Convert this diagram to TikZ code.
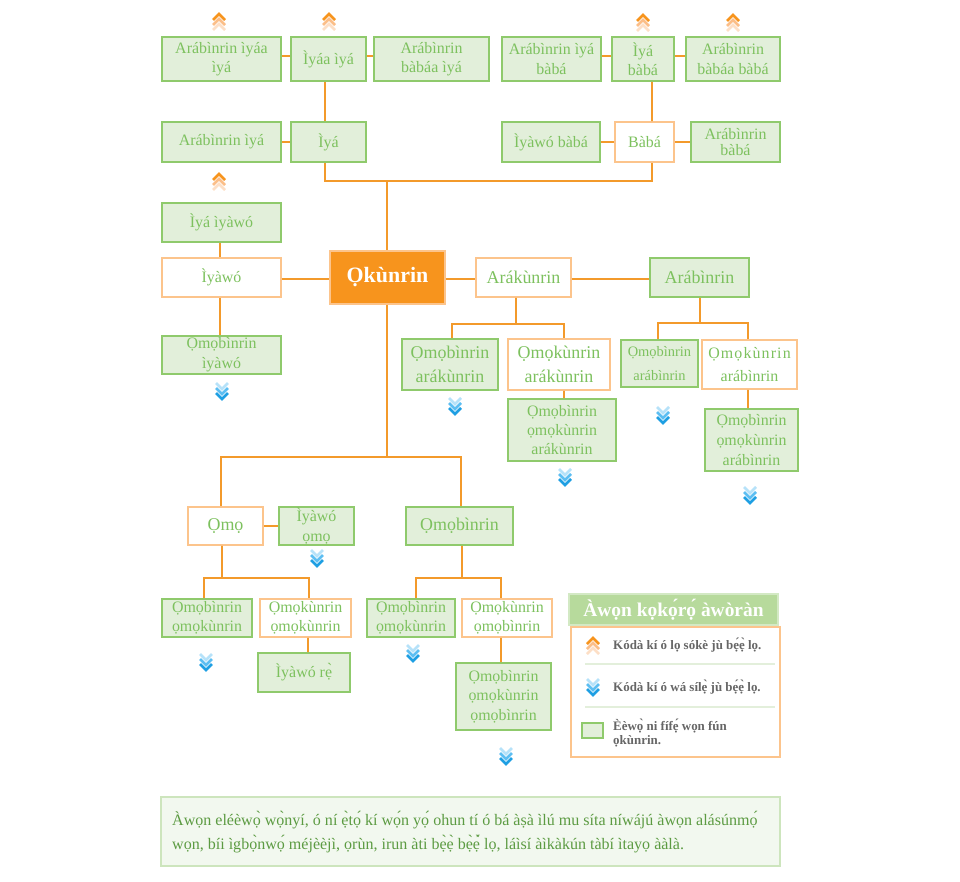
\documentclass[tikz,border=0pt]{standalone}
\usepackage{fontspec}
\setmainfont{Liberation Serif}
\usetikzlibrary{calc}
\definecolor{gtx}{HTML}{7DC15E}
\definecolor{gbd}{HTML}{8FCA6C}
\definecolor{gfl}{HTML}{E2EFDA}
\definecolor{obd}{HTML}{FCC48C}
\definecolor{oln}{HTML}{F39A2B}
\definecolor{ofl}{HTML}{F7941D}
\definecolor{chOa}{HTML}{F7941D}
\definecolor{chOb}{HTML}{FBBE88}
\definecolor{chOc}{HTML}{FDDFC6}
\definecolor{chBa}{HTML}{1E9FE3}
\definecolor{chBb}{HTML}{5CBEF2}
\definecolor{chBc}{HTML}{B6E2F9}
\definecolor{ltl}{HTML}{B7DA9C}
\definecolor{ltb}{HTML}{D3E9C4}
\definecolor{lgr}{HTML}{666666}
\definecolor{sepc}{HTML}{E3EFDB}
\definecolor{nfl}{HTML}{F2F8EF}
\definecolor{nbd}{HTML}{CDE5BD}
\definecolor{ntx}{HTML}{5C9B42}
\newcommand\myfs[2]{\fontsize{#1}{#2}\selectfont}
\tikzset{
  base/.style={inner sep=0, align=center, text=gtx, font=\myfs{16}{19.5}},
  gbox/.style={base, draw=gbd, fill=gfl, line width=1.8bp},
  obox/.style={base, draw=obd, fill=white, line width=1.6bp},
  wh/.style 2 args={minimum width=#1bp, minimum height=#2bp},
  conn/.style={draw=oln, line width=1.8bp},
  chev/.style={line width=2.5bp},
  upchev/.pic={
    \draw[chev, chOc] (-6,16) -- (0,10) -- (6,16);
    \draw[chev, chOb] (-6,11) -- (0,5) -- (6,11);
    \draw[chev, chOa] (-6,6) -- (0,0) -- (6,6);
  },
  dnchev/.pic={
    \draw[chev, chBc] (-6,0) -- (0,6) -- (6,0);
    \draw[chev, chBb] (-6,5) -- (0,11) -- (6,5);
    \draw[chev, chBa] (-6,10) -- (0,16) -- (6,10);
  },
  legtext/.style={anchor=west, align=left, inner sep=0, text=lgr, font=\bfseries\myfs{13}{15}}
}
\begin{document}
\begin{tikzpicture}[x=1bp, y=-1bp]
\useasboundingbox (0,0) rectangle (960,882);
\fill[white] (0,0) rectangle (960,882);

% ---------- row 1
\node[gbox, wh={119}{44}] (A1) at (221.5,59) {Arábìnrin ìyáa\\ìyá};
\node[gbox, wh={75}{44}] (A2) at (328.5,59) {Ìyáa ìyá};
\node[gbox, wh={115}{44}] (A3) at (431.5,59) {Arábìnrin\\bàbáa ìyá};
\node[gbox, wh={99}{44}] (A4) at (551.5,59) {Arábìnrin ìyá\\bàbá};
\node[gbox, wh={62}{44}] (A5) at (643,59) {Ìyá\\bàbá};
\node[gbox, wh={94}{44}] (A6) at (733,59) {Arábìnrin\\bàbáa bàbá};

% ---------- row 2
\node[gbox, wh={119}{40}] (B1) at (221.5,142) {Arábìnrin ìyá};
\node[gbox, wh={75}{40}] (B2) at (328.5,142) {Ìyá};
\node[gbox, wh={98}{40}] (B3) at (551,142) {Ìyàwó bàbá};
\node[obox, wh={59}{40}] (B4) at (644.5,142) {Bàbá};
\node[gbox, wh={89}{40}, font=\myfs{16}{16}] (B5) at (735.5,142) {Arábìnrin\\bàbá};

% ---------- left column
\node[gbox, wh={119}{39}] (C1) at (221.5,222.5) {Ìyá ìyàwó};
\node[obox, wh={119}{39}] (C2) at (221.5,277.5) {Ìyàwó};
\node[gbox, wh={119}{38}, font=\myfs{16}{20}] (C3) at (221.5,355) {Ọmọbìnrin\\ìyàwó};

% ---------- centre
\node[inner sep=0, fill=ofl, draw=obd, line width=1.2bp, text=white, font=\bfseries\myfs{22}{24}, wh={115}{53}] (K) at (387.5,277.5) {Ọkùnrin};

\node[obox, wh={95}{39}, font=\myfs{18}{22}] (D1) at (523.5,277.5) {Arákùnrin};
\node[gbox, wh={99}{39}, font=\myfs{18}{22}] (D2) at (699.5,277.5) {Arábìnrin};

\node[gbox, wh={96}{51}, font=\myfs{18}{23.5}] (E1) at (450,364.5) {Ọmọbìnrin\\arákùnrin};
\node[obox, wh={102}{51}, font=\myfs{18}{23.5}] (E2) at (559,364.5) {Ọmọkùnrin\\arákùnrin};
\node[gbox, wh={108}{62}, font=\myfs{16}{19.5}] (E3) at (562,430) {Ọmọbìnrin\\ọmọkùnrin\\arákùnrin};

\node[gbox, wh={77}{47}, font=\myfs{14.5}{24}] (F1) at (659.5,363.5) {Ọmọbìnrin\\arábìnrin};
\node[obox, wh={95}{49}, font=\myfs{16}{24}] (F2) at (749.5,364.5) {{\addfontfeature{LetterSpace=7}Ọmọkùnrin}\\arábìnrin};
\node[gbox, wh={93}{62}, font=\myfs{16}{20}] (F3) at (751.5,440) {Ọmọbìnrin\\ọmọkùnrin\\arábìnrin};

% ---------- lower
\node[obox, wh={75}{38}, font=\myfs{18}{22}] (G1) at (225.5,526) {Ọmọ};
\node[gbox, wh={75}{38}, font=\myfs{16}{20}] (G2) at (316.5,526) {Ìyàwó\\ọmọ};
\node[gbox, wh={107}{38}, font=\myfs{18}{22}] (G3) at (459.5,526) {Ọmọbìnrin};

\node[gbox, wh={90}{38}, font=\myfs{16}{19}] (H1) at (207,618) {Ọmọbìnrin\\ọmọkùnrin};
\node[obox, wh={91}{38}, font=\myfs{16}{19}] (H2) at (305.5,618) {Ọmọkùnrin\\ọmọkùnrin};
\node[gbox, wh={92}{39}] (H3) at (304,672.5) {Ìyàwó rẹ^^^^0300};
\node[gbox, wh={88}{38}, font=\myfs{16}{19}] (H4) at (411,618) {Ọmọbìnrin\\ọmọkùnrin};
\node[obox, wh={90}{38}, font=\myfs{16}{19}] (H5) at (507,618) {Ọmọkùnrin\\ọmọbìnrin};
\node[gbox, wh={95}{67}, font=\myfs{16}{19.5}] (H6) at (503.5,696.5) {Ọmọbìnrin\\ọmọkùnrin\\ọmọbìnrin};

% ---------- connectors
\coordinate (bar) at (387,181);
\coordinate (dbar) at (516,324);
\coordinate (fbar) at (700,323);
\coordinate (trunk) at (387,457);
\coordinate (gbar) at (222,578);
\coordinate (hbar) at (462,578);

\draw[conn] ([yshift=3bp]A1.east) -- ([yshift=3bp]A2.west);
\draw[conn] ([yshift=3bp]A2.east) -- ([yshift=3bp]A3.west);
\draw[conn] ([yshift=3bp]A4.east) -- ([yshift=3bp]A5.west);
\draw[conn] ([yshift=3bp]A5.east) -- ([yshift=3bp]A6.west);
\draw[conn] ([xshift=-3.5bp]A2.south) -- ([xshift=-3.5bp]B2.north);
\draw[conn] ([xshift=9bp]A5.south) -- ([xshift=7.5bp]B4.north);
\draw[conn] (B1.east) -- (B2.west);
\draw[conn] (B3.east) -- (B4.west);
\draw[conn] (B4.east) -- (B5.west);
\draw[conn] ([xshift=-3.5bp]B2.south) |- (bar) -| ([xshift=7.5bp]B4.south);
\draw[conn] (bar) -- (bar |- K.north);

\draw[conn] ([xshift=-1.5bp]C1.south) -- ([xshift=-1.5bp]C2.north);
\draw[conn] ([xshift=-1.5bp]C2.south) -- ([xshift=-1.5bp]C3.north);
\draw[conn] ([yshift=-1.5bp]C2.east) -- ([yshift=-1.5bp]K.west);
\draw[conn] ([yshift=-1.5bp]K.east) -- ([yshift=-1.5bp]D1.west);
\draw[conn] ([yshift=-1.5bp]D1.east) -- ([yshift=-1.5bp]D2.west);

\draw[conn] ([xshift=-7.5bp]D1.south) -- (dbar);
\draw[conn] ([xshift=2bp]E1.north) |- (dbar) -| ([xshift=5bp]E2.north);
\draw[conn] ([xshift=5bp]E2.south) -- ([xshift=2bp]E3.north);

\draw[conn] ([xshift=0.5bp]D2.south) -- (fbar);
\draw[conn] ([xshift=-1.5bp]F1.north) |- (fbar) -| ([xshift=-1.5bp]F2.north);
\draw[conn] ([xshift=-1.5bp]F2.south) -- ([xshift=-3.5bp]F3.north);

\draw[conn] (K.south -| trunk) -- (trunk);
\draw[conn] ([xshift=-4.5bp]G1.north) |- (trunk) -| ([xshift=1.5bp]G3.north);
\draw[conn] (G1.east) -- (G2.west);
\draw[conn] ([xshift=-3.5bp]G1.south) -- (gbar);
\draw[conn] ([xshift=-3bp]H1.north) |- (gbar) -| ([xshift=3.5bp]H2.north);
\draw[conn] ([xshift=2.5bp]H2.south) -- ([xshift=4bp]H3.north);
\draw[conn] ([xshift=2.5bp]G3.south) -- (hbar);
\draw[conn] ([xshift=5bp]H4.north) |- (hbar) -| ([xshift=-6bp]H5.north);
\draw[conn] ([xshift=-6bp]H5.south) -- ([xshift=-2.5bp]H6.north);

% ---------- chevrons
\pic at (219,14) {upchev};
\pic at (329,14) {upchev};
\pic at (643,15) {upchev};
\pic at (733,15) {upchev};
\pic at (219,174) {upchev};
\pic at (222,383) {dnchev};
\pic at (455,398) {dnchev};
\pic at (565,469) {dnchev};
\pic at (663,407) {dnchev};
\pic at (750,487) {dnchev};
\pic at (317,550) {dnchev};
\pic at (206,654) {dnchev};
\pic at (413,645) {dnchev};
\pic at (506,748) {dnchev};

% ---------- legend
\node[draw=ltb, line width=2bp, fill=ltl, wh={209}{31}, inner sep=0, text=white, font=\bfseries\myfs{19.5}{22}] (LT) at (673.5,609.5) {Àwọn kọkọ^^^^0301rọ^^^^0301 àwòràn};
\node[draw=obd, line width=1.5bp, fill=white, wh={209}{130}, inner sep=0] (LB) at (675.5,692) {};
\draw[sepc, line width=2.5bp] (585,664) -- (775,664);
\draw[sepc, line width=2.5bp] (585,707) -- (775,707);
\pic at (593,638) {upchev};
\pic at (593,679) {dnchev};
\node[legtext] (L1) at (613,645) {Kódà kí ó lọ sókè jù bẹ^^^^0301ẹ^^^^0300 lọ.};
\node[legtext] (L2) at (613,687) {Kódà kí ó wá sílẹ^^^^0300 jù bẹ^^^^0301ẹ^^^^0300 lọ.};
\node[gbox, wh={21}{15}] (LS) at (592.5,730.5) {};
\node[legtext] (L3) at (613,733) {Èèwọ^^^^0300 ni fífẹ^^^^0301 wọn fún\\ọkùnrin.};

% ---------- note
\node[draw=nbd, fill=nfl, line width=2.5bp, wh={619}{69}, inner sep=0] (NB) at (470.5,831.5) {};
\node[anchor=west, align=left, inner sep=0, text=ntx, font=\myfs{16.1}{24}] (NT) at (172,832) {Àwọn eléèwọ^^^^0300 wọ^^^^0300nyí, ó ní ẹ^^^^0300tọ^^^^0301 kí wọ^^^^0301n yọ^^^^0301 ohun tí ó bá àṣà ìlú mu síta níwájú àwọn alásúnmọ^^^^0301\\wọn, bíi ìgbọ^^^^0300nwọ^^^^0301 méjèèjì, ọrùn, irun àti bẹ^^^^0300ẹ^^^^0300 bẹ^^^^0300ẹ^^^^0300^^^^0301 lọ, láìsí àìkàkún tàbí ìtayọ ààlà.};
\end{tikzpicture}
\end{document}
